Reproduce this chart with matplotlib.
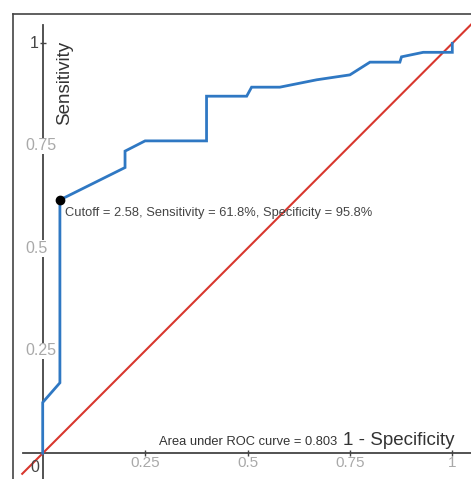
import matplotlib
matplotlib.use("Agg")
import matplotlib.pyplot as plt
from matplotlib.lines import Line2D

plt.rcParams['font.family'] = ['Liberation Sans', 'DejaVu Sans']

# ROC curve (1 - specificity, sensitivity)
fpr = [0, 0, 0.042, 0.042, 0.201, 0.201, 0.25, 0.40, 0.40, 0.498, 0.51, 0.579,
       0.669, 0.75, 0.799, 0.872, 0.876, 0.929, 1.0, 1.0]
tpr = [0, 0.124, 0.172, 0.618, 0.697, 0.737, 0.762, 0.762, 0.871, 0.871, 0.893,
       0.893, 0.911, 0.923, 0.954, 0.954, 0.967, 0.978, 0.978, 1.0]
diag = [-0.05, 1.1]
cutoff = 2.58
cut_sens = 0.618
cut_spec = 0.958
auc = 0.803
x_ticks = [0.25, 0.5, 0.75, 1]
x_ticklabels = ['0.25', '0.5', '0.75', '1']
y_ticks = [0.25, 0.5, 0.75]
y_ticklabels = ['0.25', '0.5', '0.75']

W, H = 471, 479
fig = plt.figure(figsize=(W / 100, H / 100), dpi=100)
ax = fig.add_axes([0, 0, 1, 1])
x0px, xs = 42.7, 409.6
y0px, ys = 453.3, 410.0
ax.set_xlim(-x0px / xs, (W - x0px) / xs)
ax.set_ylim((y0px - H) / ys, y0px / ys)

# frame around the figure
fig.add_artist(Line2D([13 / W, 13 / W], [0, 1 - 14 / H], transform=fig.transFigure,
                      color='#444444', lw=1.2))
fig.add_artist(Line2D([13 / W, 1], [1 - 14 / H, 1 - 14 / H], transform=fig.transFigure,
                      color='#444444', lw=1.2))

# axes spines through origin
for s in ['top', 'right']:
    ax.spines[s].set_visible(False)
ax.spines['left'].set_position(('data', 0))
ax.spines['bottom'].set_position(('data', 0))
ax.spines['left'].set_bounds((y0px - H) / ys, (y0px - 25) / ys)
ax.spines['bottom'].set_bounds(-0.049, (W - x0px) / xs)
for s in ['left', 'bottom']:
    ax.spines[s].set_color('#444444')
    ax.spines[s].set_linewidth(1.3)
ax.set_xticks(x_ticks)
ax.set_yticks([1])
ax.tick_params(axis='both', direction='inout', length=5, width=1, color='#444444',
               labelleft=False, labelbottom=False)
ax.set_facecolor('none')

# curves
ax.plot(diag, diag, color='#d8372e', lw=1.5, zorder=3)
ax.plot(fpr, tpr, color='#2f78c3', lw=2.0, zorder=4, solid_joinstyle='miter')
ax.plot([1 - cut_spec], [cut_sens], 'o', color='black', ms=6, zorder=5)

# tick labels
for v, lab in zip(x_ticks, x_ticklabels):
    ax.text(v, (y0px - 467) / ys, lab, ha='center', va='baseline', fontsize=11,
            color='#a9a9a9', zorder=6)
for v, lab in zip(y_ticks, y_ticklabels):
    ax.text((25 - x0px) / xs, v, lab, ha='left', va='center', fontsize=11.5,
            color='#a9a9a9', zorder=6,
            bbox=dict(boxstyle='square,pad=0.05', fc='white', ec='none'))
ax.text((30 - x0px) / xs, 1.0, '1', ha='left', va='center', fontsize=11.5,
        color='#444444', zorder=6)
ax.text((30 - x0px) / xs, (y0px - 467) / ys, '0', ha='left', va='center', fontsize=11.5,
        color='#444444', zorder=6)

# labels and annotations
ax.text((65 - x0px) / xs, (y0px - 83) / ys, 'Sensitivity', rotation=90,
        ha='center', va='center', fontsize=13.5, color='#333333')
ax.text((343 - x0px) / xs, (y0px - 445) / ys, '1 - Specificity', ha='left',
        va='baseline', fontsize=13.5, color='#333333')
ax.text((337 - x0px) / xs, (y0px - 445) / ys, f'Area under ROC curve = {auc}',
        ha='right', va='baseline', fontsize=9.3, color='#333333')
ax.text((65 - x0px) / xs, (y0px - 213.3) / ys,
        f'Cutoff = {cutoff}, Sensitivity = {cut_sens*100:.1f}%, '
        f'Specificity = {cut_spec*100:.1f}%',
        ha='left', va='center', fontsize=9.3, color='#444444')

fig.savefig('out.png', dpi=100)
